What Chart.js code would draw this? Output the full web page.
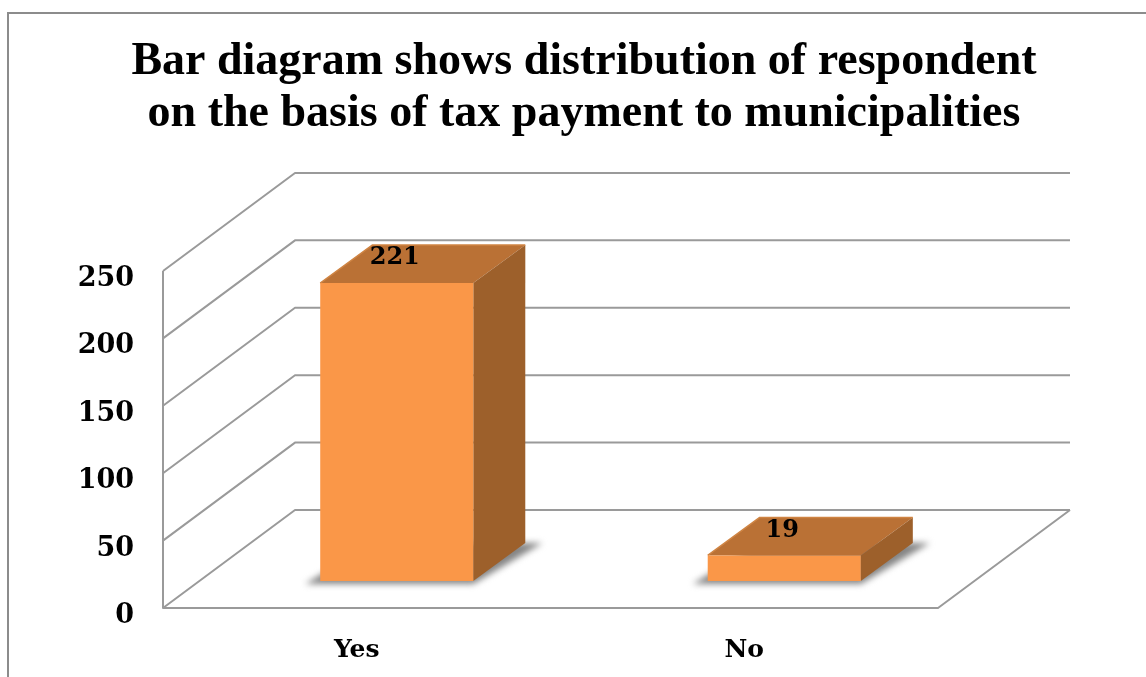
<!DOCTYPE html>
<html>
<head>
<meta charset="utf-8">
<title>Tax payment to municipalities</title>
<script src="https://cdn.jsdelivr.net/npm/chart.js@4"></script>
<style>
    html, body { margin: 0; padding: 0; background: #fff; }
    canvas { display: block; }
</style>
</head>
<body>
<canvas id="taxChart" width="1146" height="677"></canvas>
<script>
const categories = ['Yes', 'No'];
const respondents = [221, 19];
const titleLines = ['Bar diagram shows distribution of respondent', 'on the basis of tax payment to municipalities'];

const lineGrey = '#9a9a9a';
// how far the back wall and the bars sit from the front plane
const wallDepth = { x: 132, y: -98 };
const barShift = { x: 40, y: -27 };
const barDepth = { x: 52, y: -38 };

function polygon(ctx, pts, fill) {
    ctx.beginPath();
    pts.forEach((p, i) => i ? ctx.lineTo(p[0], p[1]) : ctx.moveTo(p[0], p[1]));
    ctx.closePath();
    ctx.fillStyle = fill;
    ctx.fill();
}

const box3d = {
    id: 'box3d',
    beforeDraw(chart) {
        const ctx = chart.ctx;
        ctx.save();
        ctx.fillStyle = '#fff';
        ctx.fillRect(0, 0, chart.width, chart.height);
        ctx.strokeStyle = '#8c8c8c';
        ctx.lineWidth = 2;
        ctx.strokeRect(8, 13, chart.width + 20, chart.height + 20);
        ctx.restore();
    },
    beforeDatasetsDraw(chart) {
        const ctx = chart.ctx;
        const { x, y } = chart.scales;
        const left = x.left, right = x.right, base = y.getPixelForValue(0);

        ctx.save();
        ctx.strokeStyle = lineGrey;
        ctx.lineWidth = 2;
        ctx.lineJoin = 'round';
        y.ticks.forEach(t => {
            const py = y.getPixelForValue(t.value);
            ctx.beginPath();
            ctx.moveTo(left, py);
            ctx.lineTo(left + wallDepth.x, py + wallDepth.y);
            ctx.lineTo(right + wallDepth.x, py + wallDepth.y);
            ctx.stroke();
        });
        // left wall edge and the front and right edges of the floor
        ctx.beginPath();
        ctx.moveTo(left, y.getPixelForValue(250));
        ctx.lineTo(left, base);
        ctx.lineTo(right, base);
        ctx.lineTo(right + wallDepth.x, base + wallDepth.y);
        ctx.stroke();

        chart.getDatasetMeta(0).data.forEach(bar => {
            const l = bar.x - bar.width / 2 + barShift.x;
            const r = bar.x + bar.width / 2 + barShift.x;
            const top = bar.y + barShift.y;
            const bottom = bar.base + barShift.y;
            const dx = barDepth.x, dy = barDepth.y;

            // soft floor shadow
            ctx.save();
            ctx.filter = 'blur(3px)';
            polygon(ctx, [[l - 15, bottom + 3], [r, bottom + 3], [r + dx + 17, bottom + dy], [l + dx, bottom + dy]], '#858585');
            ctx.restore();

            polygon(ctx, [[l, top], [r, top], [r + dx, top + dy], [l + dx, top + dy]], '#ba7135');
            polygon(ctx, [[r, top], [r + dx, top + dy], [r + dx, bottom + dy], [r, bottom]], '#9d602b');

            // lighter bevel along the top edges
            ctx.strokeStyle = '#cf8443';
            ctx.lineWidth = 1.5;
            ctx.beginPath();
            ctx.moveTo(l, top);
            ctx.lineTo(l + dx, top + dy);
            ctx.lineTo(r + dx, top + dy);
            ctx.stroke();
        });
        ctx.restore();

        // the front faces are drawn by the bar controller, pushed back onto the floor
        ctx.save();
        ctx.translate(barShift.x, barShift.y);
    },
    afterDatasetsDraw(chart) {
        const ctx = chart.ctx;
        ctx.restore();

        ctx.save();
        ctx.fillStyle = '#000';
        ctx.font = 'bold 24px "DejaVu Serif"';
        ctx.textAlign = 'center';
        ctx.textBaseline = 'middle';
        chart.getDatasetMeta(0).data.forEach((bar, i) => {
            ctx.fillText(respondents[i], bar.x + barShift.x - 2, bar.y + barShift.y - 25);
        });
        ctx.restore();
    }
};

new Chart(document.getElementById('taxChart'), {
    type: 'bar',
    data: {
        labels: categories,
        datasets: [{
            label: 'Respondents',
            data: respondents,
            backgroundColor: '#fa9748',
            borderWidth: 0,
            barPercentage: 1,
            categoryPercentage: 0.395
        }]
    },
    plugins: [box3d],
    options: {
        responsive: false,
        animation: false,
        layout: { padding: { left: 22 } },
        plugins: {
            legend: { display: false },
            tooltip: { enabled: false },
            title: {
                display: true,
                text: titleLines,
                color: '#000',
                font: { family: '"Liberation Serif"', size: 46, weight: 'bold', lineHeight: 1.13 },
                padding: { top: 36, bottom: 131 }
            }
        },
        scales: {
            x: {
                afterFit: s => { s.height = 69; },
                grid: { display: false },
                border: { display: false },
                ticks: { color: '#000', padding: 19, font: { family: '"DejaVu Serif"', size: 25, weight: 'bold' } }
            },
            y: {
                min: 0,
                max: 250,
                afterFit: s => { s.width = 141; },
                // the value labels hang a little below their gridlines
                afterUpdate: s => {
                    const drawLabels = s.constructor.prototype.drawLabels;
                    s.drawLabels = area => {
                        s.ctx.save();
                        s.ctx.translate(0, 8);
                        drawLabels.call(s, area);
                        s.ctx.restore();
                    };
                },
                grid: { display: false },
                border: { display: false },
                ticks: { stepSize: 50, color: '#000', padding: 21, font: { family: '"DejaVu Serif"', size: 27, weight: 'bold' } }
            },
            // empty axis that keeps the floor's right corner clear of the canvas edge
            y2: {
                position: 'right',
                afterFit: s => { s.width = 208; },
                grid: { display: false },
                border: { display: false },
                ticks: { display: false }
            }
        }
    }
});
</script>
</body>
</html>
